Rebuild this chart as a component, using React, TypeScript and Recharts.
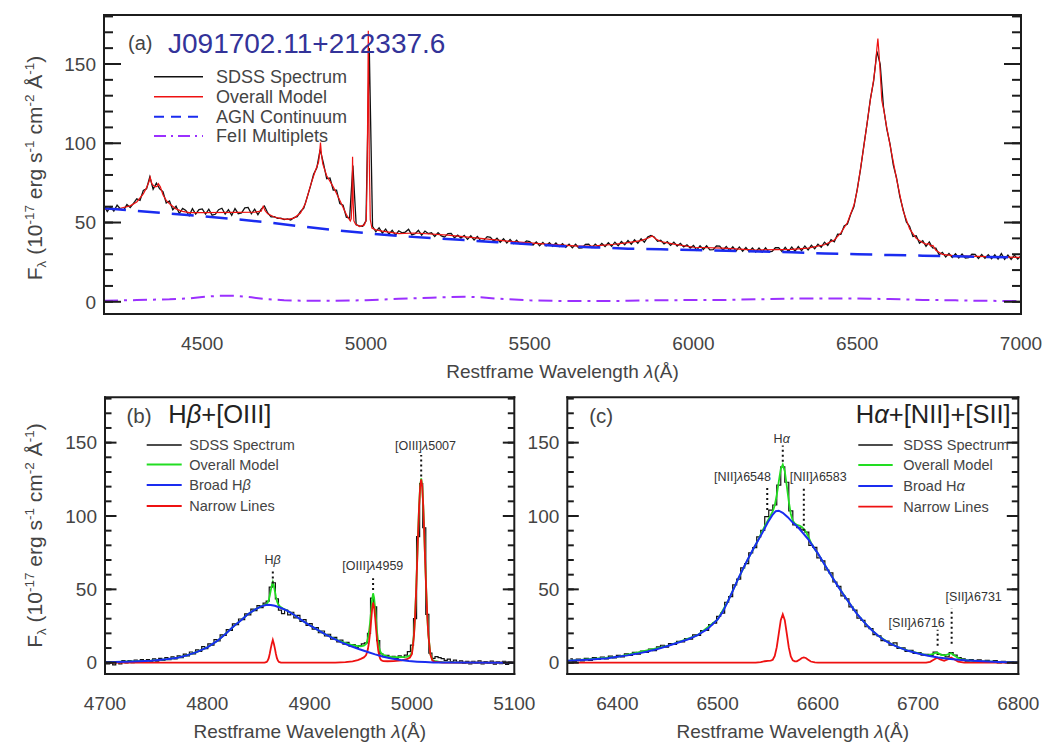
import React from "react";
import { LineChart, Line, XAxis, YAxis, ReferenceLine } from "recharts";

const FONT = "'Liberation Sans', Arial, Helvetica, sans-serif";
const INK = "#444";
const FRAME = "#1c1c1c";

// ---------- (a) full restframe spectrum, 4200-7000 Å ----------
// SDSS flux sampled every 10 Å from 4200 Å
const sdssAStart = 4200;
const sdssAStep = 10;
const sdssAFlux = [
  60.6, 56.9, 59.9, 57.2, 61.0, 58.6, 57.8, 61.3, 59.5, 62.1,
  64.9, 64.0, 70.2, 71.3, 78.8, 71.0, 74.8, 71.2, 69.5, 62.3,
  63.6, 58.1, 60.3, 55.7, 58.9, 57.6, 54.4, 58.8, 55.3, 58.2,
  58.6, 55.3, 58.4, 54.6, 55.2, 58.1, 59.0, 55.3, 58.1, 54.5,
  58.8, 55.6, 56.1, 59.2, 59.5, 55.5, 58.4, 54.9, 58.5, 60.4,
  56.0, 53.6, 53.7, 52.6, 52.7, 51.8, 52.3, 51.6, 53.1, 53.7,
  57.0, 59.1, 65.7, 72.6, 80.4, 84.6, 96.0, 87.5, 77.6, 78.1,
  70.5, 70.4, 62.0, 60.9, 53.4, 52.8, 86.0, 48.6, 47.9, 47.6,
  51.0, 160.0, 47.6, 44.2, 46.6, 43.3, 45.9, 42.6, 45.1, 42.0,
  44.8, 43.5, 44.0, 45.7, 42.2, 42.9, 45.1, 42.1, 44.6, 43.0,
  43.5, 41.2, 43.6, 41.6, 40.8, 43.0, 43.1, 40.4, 42.0, 40.2,
  41.9, 39.4, 41.6, 39.0, 41.2, 38.6, 38.9, 41.1, 40.6, 38.2,
  40.1, 37.6, 39.8, 37.1, 39.3, 36.8, 38.8, 36.5, 36.6, 38.4,
  37.9, 35.8, 37.8, 35.4, 37.5, 35.3, 37.3, 35.0, 37.1, 34.8,
  36.6, 34.4, 36.4, 34.1, 36.3, 33.9, 34.0, 36.2, 36.4, 34.2,
  36.4, 34.6, 36.8, 34.9, 37.2, 35.0, 37.6, 35.4, 38.0, 36.0,
  38.6, 36.3, 39.1, 37.0, 39.8, 37.6, 40.8, 41.9, 40.9, 38.2,
  38.8, 36.5, 37.9, 35.6, 37.6, 35.2, 36.8, 34.6, 35.9, 33.9,
  35.5, 32.6, 35.4, 33.0, 35.3, 32.8, 32.9, 35.2, 35.1, 32.5,
  34.9, 32.3, 34.7, 32.1, 34.6, 31.9, 34.2, 31.7, 33.9, 31.4,
  33.9, 31.4, 34.0, 31.5, 31.8, 34.1, 34.2, 31.7, 34.4, 31.8,
  34.5, 31.9, 34.8, 32.3, 35.2, 32.7, 35.6, 33.5, 36.3, 34.4,
  37.6, 35.6, 39.2, 37.9, 42.6, 42.5, 47.8, 49.0, 55.2, 60.0,
  71.0, 83.5, 98.3, 112.4, 127.8, 139.2, 158.0, 150.0, 123.0, 109.3,
  99.6, 86.4, 78.1, 66.4, 58.2, 50.4, 47.5, 41.2, 41.6, 37.0,
  38.6, 35.0, 37.7, 34.0, 33.8, 29.6, 31.2, 28.3, 30.5, 28.0,
  30.3, 27.7, 30.1, 27.6, 27.8, 30.0, 29.9, 27.3, 29.8, 27.4,
  29.7, 27.2, 29.6, 26.9, 30.4, 26.8, 29.5, 26.7, 29.4, 26.9,
  29.0,
];

// overall model [Å, flux]
const modelA = [
  [4200, 58.5], [4250, 59.0], [4280, 60.5], [4300, 63.0], [4320, 68.0], [4330, 72.0],
  [4337, 75.5], [4341, 78.5], [4346, 74.5], [4355, 72.5], [4362, 72.8], [4366, 74.5],
  [4372, 72.5], [4380, 67.5], [4390, 64.0], [4400, 61.8], [4420, 58.5], [4440, 57.0],
  [4460, 56.3], [4500, 56.3], [4600, 56.4], [4660, 56.6], [4680, 57.2], [4686, 60.3],
  [4692, 57.5], [4700, 55.5], [4720, 53.5], [4740, 52.5], [4760, 52.0], [4780, 52.8],
  [4800, 56.0], [4815, 62.0], [4830, 73.0], [4845, 82.5], [4855, 88.0], [4858, 93.0],
  [4861, 100.5], [4864, 93.0], [4868, 87.0], [4880, 79.5], [4900, 72.5], [4920, 64.0],
  [4940, 55.0], [4952, 51.0], [4955, 52.5], [4957, 62.0], [4959, 91.5], [4961, 62.0],
  [4963, 51.0], [4968, 49.0], [4980, 47.5], [4995, 48.5], [5001, 52.0], [5004, 90.0],
  [5007, 171.0], [5010, 90.0], [5013, 52.0], [5018, 46.5], [5030, 45.4], [5050, 44.6],
  [5100, 43.0], [5150, 43.4], [5250, 42.1], [5350, 40.0], [5450, 37.9], [5550, 36.4],
  [5650, 35.1], [5700, 35.3], [5760, 36.3], [5800, 37.3], [5840, 38.6], [5862, 40.2],
  [5874, 41.5], [5885, 39.6], [5900, 38.0], [5940, 36.4], [6000, 34.4], [6090, 33.8],
  [6190, 32.6], [6300, 33.1], [6350, 33.9], [6400, 36.0], [6430, 39.0], [6450, 43.5],
  [6470, 50.0], [6490, 61.0], [6500, 70.5], [6520, 97.8], [6540, 127.3], [6550, 140.0],
  [6556, 150.0], [6560, 160.0], [6563, 166.0], [6566, 158.0], [6570, 145.0], [6575, 127.0],
  [6581, 121.0], [6590, 110.0], [6600, 99.0], [6620, 77.5], [6640, 57.5], [6660, 46.0],
  [6680, 40.0], [6700, 37.2], [6712, 36.3], [6718, 36.8], [6724, 35.2], [6731, 35.6],
  [6740, 32.5], [6760, 29.9], [6800, 29.0], [6900, 28.5], [7000, 28.0],
];

// power-law AGN continuum
const agnContinuum = [
  [4200, 59.0], [4300, 57.3], [4400, 55.6], [4500, 54.0], [4600, 52.2], [4700, 50.1],
  [4800, 47.6], [4900, 45.3], [5000, 43.3], [5100, 41.5], [5200, 40.2], [5300, 38.9],
  [5400, 37.6], [5500, 36.3], [5600, 35.1], [5700, 34.3], [5800, 33.5], [5900, 33.1],
  [6000, 32.7], [6100, 32.2], [6200, 31.7], [6300, 31.2], [6400, 30.5], [6500, 30.0],
  [6600, 29.5], [6700, 29.1], [6800, 28.7], [6900, 28.3], [7000, 27.9],
];

// FeII template
const feIIMultiplets = [
  [4200, 0.6], [4300, 1.1], [4400, 1.6], [4460, 2.2], [4500, 3.0], [4550, 3.8],
  [4600, 3.8], [4650, 2.8], [4700, 1.6], [4750, 1.0], [4800, 0.7], [4900, 0.6],
  [5000, 1.0], [5100, 1.9], [5200, 2.6], [5300, 3.2], [5350, 2.8], [5400, 2.0],
  [5500, 0.9], [5600, 0.5], [5700, 0.5], [5800, 0.6], [5900, 1.0], [6000, 1.1],
  [6100, 1.2], [6200, 1.6], [6300, 2.0], [6400, 2.1], [6500, 2.1], [6600, 1.7],
  [6700, 1.2], [6800, 0.9], [6900, 0.6], [7000, 0.5],
];

// ---------- (b) Hβ + [OIII], continuum subtracted ----------
const sdssBStart = 4700;
const sdssBStep = 3;
const sdssBFlux = [
  0.8, -0.9, 0.6, -1.5, 0.3, -0.8, 1.4, -0.2, 1.5, 0.0,
  1.8, 0.3, 2.1, 0.6, 2.2, 0.9, 2.6, 1.1, 3.0, 1.6,
  3.4, 2.0, 4.0, 2.6, 4.7, 3.5, 5.9, 4.6, 7.3, 6.0,
  8.8, 7.7, 10.9, 9.6, 12.9, 12.0, 15.7, 14.8, 18.9, 18.6,
  22.6, 22.1, 26.4, 25.9, 29.8, 29.4, 33.3, 32.6, 36.5, 35.5,
  38.9, 37.6, 40.6, 42.0, 51.5, 54.5, 43.5, 35.8, 33.4, 35.9,
  32.6, 34.4, 30.6, 32.2, 28.1, 29.3, 25.4, 26.7, 22.8, 24.0,
  20.4, 21.6, 18.2, 19.4, 16.0, 17.3, 14.2, 15.4, 12.6, 13.8,
  11.2, 12.4, 10.4, 11.6, 12.8, 13.5, 20.0, 44.0, 38.0, 15.0,
  6.0, 4.2, 5.0, 3.2, 4.4, 3.0, 4.6, 3.6, 5.2, 7.6,
  12.0, 30.0, 86.0, 122.0, 92.0, 33.0, 6.5, 3.0, 4.2, 3.4,
  2.8, 1.6, 2.4, 0.8, 1.7, 0.2, 1.3, -0.5, 0.9, -0.8,
  1.0, -0.3, 1.2, -0.9, 0.7, -0.4, 1.1, -1.0, 0.5, -0.6,
  0.9, -1.1, 0.4, -0.5,
];

const modelB = [
  [4700, 0.3], [4720, 0.7], [4745, 1.4], [4760, 2.3], [4771, 3.4], [4780, 5.0],
  [4790, 7.4], [4800, 10.5], [4810, 15.0], [4818, 19.8], [4826, 25.0], [4833, 29.0],
  [4839, 32.7], [4846, 36.0], [4852, 38.2], [4857, 39.6], [4859, 41.0], [4860, 42.6],
  [4861, 45.6], [4862, 49.3], [4863, 52.5], [4864, 54.9], [4865, 52.4], [4866, 48.9],
  [4867, 45.1], [4868, 42.0], [4869, 40.2], [4871, 38.3], [4874, 37.0], [4878, 35.5],
  [4884, 33.0], [4891, 29.5], [4899, 26.0], [4907, 22.7], [4915, 19.5], [4923, 16.8],
  [4931, 14.3], [4940, 12.3], [4947, 11.3], [4950, 11.2], [4953, 11.6], [4955, 12.6],
  [4956, 14.2], [4957, 16.8], [4958, 21.1], [4959, 27.0], [4960, 34.8], [4961, 42.6],
  [4962, 47.3], [4963, 44.2], [4964, 36.9], [4965, 28.2], [4966, 20.0], [4967, 13.8],
  [4968, 10.0], [4969, 7.7], [4970, 6.5], [4972, 5.4], [4976, 4.3], [4980, 3.9],
  [4985, 3.8], [4990, 3.8], [4995, 4.0], [4998, 4.8], [5000, 7.0], [5002, 19.8],
  [5003, 31.8], [5004, 48.2], [5005, 68.0], [5006, 89.0], [5007, 107.6], [5008, 120.6],
  [5009, 125.6], [5010, 120.5], [5011, 107.4], [5012, 88.4], [5013, 67.4], [5014, 48.3],
  [5015, 31.2], [5016, 19.2], [5018, 5.9], [5020, 1.8], [5022, 1.2], [5026, 0.7],
  [5030, 0.4], [5050, 0.1], [5100, 0.0],
];

const broadHb = [
  [4700, 0.3], [4720, 0.7], [4745, 1.4], [4760, 2.3], [4771, 3.4], [4780, 5.0],
  [4790, 7.4], [4800, 10.5], [4810, 15.0], [4818, 19.8], [4826, 25.0], [4833, 29.0],
  [4839, 32.7], [4846, 36.0], [4852, 38.2], [4858, 39.5], [4862, 39.4], [4866, 38.8],
  [4872, 37.3], [4878, 35.5], [4884, 33.0], [4891, 29.5], [4899, 26.0], [4907, 22.7],
  [4915, 19.5], [4923, 16.6], [4931, 13.9], [4940, 11.4], [4948, 9.3], [4956, 7.5],
  [4964, 5.7], [4972, 4.1], [4980, 2.9], [4989, 1.8], [4997, 1.1], [5005, 0.7],
  [5013, 0.4], [5021, 0.2], [5040, 0.1], [5100, 0.0],
];

const narrowB = [
  [4700, 0], [4856, 0], [4858, 0.5], [4859, 1.4], [4860, 3.1], [4861, 6.1], [4862, 9.8],
  [4863, 13.0], [4864, 15.5], [4865, 13.0], [4866, 9.8], [4867, 6.1], [4868, 3.1],
  [4869, 1.4], [4870, 0.5], [4872, 0], [4925, 0], [4935, 0.4], [4942, 0.9], [4947, 1.8],
  [4950, 2.6], [4953, 3.6], [4955, 5.0], [4956, 6.8], [4957, 9.5], [4958, 14.0],
  [4959, 20.0], [4960, 28.0], [4961, 36.0], [4962, 41.0], [4963, 38.0], [4964, 31.0],
  [4965, 22.5], [4966, 14.5], [4967, 8.5], [4968, 4.8], [4969, 2.6], [4970, 1.6],
  [4972, 1.1], [4976, 1.0], [4982, 1.1], [4990, 1.6], [4995, 2.4], [4998, 3.5],
  [5000, 6.0], [5002, 18.9], [5003, 31.0], [5004, 47.6], [5005, 67.4], [5006, 88.4],
  [5007, 107.0], [5008, 120.0], [5009, 125.0], [5010, 120.0], [5011, 107.0], [5012, 88.0],
  [5013, 67.0], [5014, 48.0], [5015, 31.0], [5016, 19.0], [5018, 5.5], [5020, 1.5],
  [5022, 0.8], [5026, 0.4], [5030, 0], [5100, 0],
];

// ---------- (c) Hα + [NII] + [SII], continuum subtracted ----------
const sdssCStart = 6353;
const sdssCStep = 4;
const sdssCFlux = [
  2.6, 0.9, 2.4, 1.2, 2.9, 1.6, 3.4, 2.2, 3.9, 2.6,
  4.5, 3.2, 5.0, 4.0, 6.1, 4.9, 7.0, 5.9, 7.9, 7.1,
  9.3, 8.3, 10.8, 11.9, 10.6, 13.0, 12.5, 14.6, 14.2, 16.5,
  16.1, 18.9, 18.6, 21.9, 22.0, 26.0, 27.0, 31.6, 33.8, 41.2,
  45.0, 53.0, 57.0, 64.6, 67.5, 74.8, 78.4, 85.8, 90.2, 99.5,
  104.0, 107.5, 121.0, 133.5, 123.0, 103.5, 94.0, 92.0, 90.6, 89.0,
  80.0, 78.6, 71.5, 69.4, 63.2, 61.2, 55.0, 52.0, 45.6, 43.6,
  38.0, 35.9, 30.4, 28.9, 24.5, 23.2, 19.1, 18.3, 15.0, 14.7,
  12.0, 13.5, 9.8, 10.2, 7.7, 8.4, 6.3, 6.9, 5.1, 5.7,
  5.0, 7.2, 5.7, 5.3, 4.0, 6.9, 5.2, 3.4, 2.6, 1.1,
  2.2, 0.7, 1.9, 0.4, 1.6, 0.3, 1.4, -0.1, 1.0, -0.2,
  0.6, -0.3,
];

const modelC = [
  [6350, 1.3], [6400, 4.0], [6450, 11.4], [6480, 18.8], [6500, 29.5], [6510, 41.5],
  [6520, 56.5], [6530, 70.3], [6540, 83.0], [6543, 87.5], [6547, 93.0], [6550, 96.8],
  [6553, 100.5], [6555, 103.1], [6557, 107.3], [6559, 114.3], [6561, 123.4], [6563, 132.0],
  [6565, 135.0], [6567, 130.5], [6569, 120.5], [6571, 110.0], [6573, 101.4], [6575, 96.8],
  [6577, 94.8], [6579, 94.0], [6582, 93.3], [6584, 92.5], [6586, 91.1], [6588, 89.3],
  [6590, 86.7], [6593, 82.0], [6597, 77.4], [6600, 74.5], [6610, 63.2], [6620, 52.2],
  [6630, 42.1], [6640, 32.5], [6650, 24.8], [6660, 18.5], [6670, 13.9], [6680, 10.6],
  [6690, 8.2], [6700, 6.5], [6710, 5.0], [6714, 5.8], [6719, 7.0], [6723, 5.4],
  [6727, 5.0], [6733, 6.5], [6737, 4.5], [6742, 2.5], [6750, 1.5], [6760, 1.1],
  [6780, 0.5], [6800, 0.2],
];

const broadHa = [
  [6350, 1.3], [6360, 1.6], [6370, 2.0], [6380, 2.5], [6390, 3.1], [6400, 4.0],
  [6410, 5.0], [6420, 6.2], [6430, 7.7], [6440, 9.4], [6450, 11.4], [6460, 13.6],
  [6470, 15.8], [6480, 18.8], [6490, 23.0], [6500, 29.5], [6505, 34.5], [6510, 41.5],
  [6515, 48.8], [6520, 56.5], [6525, 63.6], [6530, 70.3], [6535, 76.8], [6540, 83.0],
  [6545, 89.0], [6550, 95.5], [6555, 101.0], [6558, 103.3], [6561, 103.6], [6565, 102.2],
  [6570, 99.2], [6575, 95.5], [6580, 92.5], [6585, 88.5], [6590, 84.5], [6595, 79.5],
  [6600, 74.5], [6605, 68.8], [6610, 63.2], [6615, 57.6], [6620, 52.2], [6625, 47.0],
  [6630, 42.1], [6635, 37.0], [6640, 32.5], [6645, 28.5], [6650, 24.8], [6655, 21.5],
  [6660, 18.5], [6665, 16.0], [6670, 13.9], [6675, 12.1], [6680, 10.6], [6690, 8.1],
  [6700, 6.3], [6710, 4.7], [6720, 3.6], [6730, 2.7], [6740, 2.0], [6750, 1.5],
  [6760, 1.1], [6770, 0.8], [6780, 0.5], [6790, 0.3], [6800, 0.2],
];

const narrowC = [
  [6350, 0], [6538, 0], [6543, 0.4], [6547, 1.0], [6550, 1.3], [6553, 1.4], [6555, 2.0],
  [6557, 4.6], [6559, 10.6], [6561, 19.8], [6563, 29.0], [6565, 33.0], [6567, 29.0],
  [6569, 19.8], [6571, 10.4], [6573, 4.2], [6575, 1.6], [6577, 0.9], [6579, 0.9],
  [6582, 2.2], [6584, 3.2], [6586, 3.6], [6588, 3.2], [6590, 2.2], [6593, 0.8],
  [6597, 0.2], [6600, 0], [6708, 0], [6712, 0.6], [6716, 2.2], [6719, 3.4], [6722, 2.2],
  [6726, 1.3], [6730, 2.4], [6733, 3.6], [6736, 2.4], [6740, 0.7], [6746, 0], [6800, 0],
];

// line identification markers: [wavelength, lower flux, upper flux]
const markersB = [
  [4864, 54, 62.5],
  [4962, 49.5, 57.5],
  [5009, 127, 141.5],
];
const markersC = [
  [6565, 137, 148],
  [6549.5, 104, 119.5],
  [6586, 90, 120],
  [6719.5, 11.5, 22.5],
  [6733.5, 13, 37],
];

// axis ticks
const xTicksA = [4500, 5000, 5500, 6000, 6500, 7000];
const xTicksB = [4700, 4800, 4900, 5000, 5100];
const xTicksC = [6400, 6500, 6600, 6700, 6800];
const yTicks = [0, 50, 100, 150];
const Y_DOMAIN: [number, number] = [-7.7, 180.9];

type Pt = { x: number; y: number };
const onGrid = (start: number, step: number, flux: number[]): Pt[] =>
  flux.map((y, i) => ({ x: start + i * step, y }));
const fromPairs = (pairs: number[][]): Pt[] => pairs.map(([x, y]) => ({ x, y }));
const steps = (from: number, to: number, by: number) => {
  const out: number[] = [];
  for (let v = from; v <= to; v += by) out.push(v);
  return out;
};

type Frame = {
  xDomain: [number, number];
  xTicks: number[];
  xMinor: number[];
  xLen: [number, number];
  yLen: [number, number];
  yAxisWidth: number;
};

// tick marks only, no text
const noLabel = () => <g />;

// IDL-style box: labels outside, inward ticks on all four sides
function frameAxes(f: Frame) {
  const tl = { stroke: FRAME, strokeWidth: 2 };
  const edge = { stroke: FRAME, strokeWidth: 2, strokeLinecap: "square" as const };
  const xc = { type: "number" as const, domain: f.xDomain, allowDataOverflow: true, interval: 0 as const };
  const yc = { type: "number" as const, domain: Y_DOMAIN, allowDataOverflow: true, interval: 0 as const };
  const yMinor = steps(0, 180, 10);
  const label = { fill: INK, fontSize: 19, fontFamily: FONT };
  return [
    <XAxis key="x" xAxisId="main" dataKey="x" {...xc} ticks={f.xTicks} height={60}
      axisLine={false} tickLine={false} tickSize={0} tickMargin={23} tick={label} />,
    <XAxis key="xb" xAxisId="bMaj" {...xc} ticks={f.xTicks} mirror height={0.01} tick={noLabel}
      tickSize={f.xLen[0]} tickLine={tl} axisLine={edge} />,
    <XAxis key="xbm" xAxisId="bMin" {...xc} ticks={f.xMinor} mirror height={0.01} tick={noLabel}
      tickSize={f.xLen[1]} tickLine={tl} axisLine={false} />,
    <XAxis key="xt" xAxisId="tMaj" orientation="top" {...xc} ticks={f.xTicks} mirror height={0.01}
      tick={noLabel} tickSize={f.xLen[0]} tickLine={tl} axisLine={edge} />,
    <XAxis key="xtm" xAxisId="tMin" orientation="top" {...xc} ticks={f.xMinor} mirror height={0.01}
      tick={noLabel} tickSize={f.xLen[1]} tickLine={tl} axisLine={false} />,
    <YAxis key="y" yAxisId="main" dataKey="y" {...yc} ticks={yTicks} width={f.yAxisWidth}
      axisLine={false} tickLine={false} tickSize={0} tickMargin={8} tick={label} />,
    <YAxis key="yl" yAxisId="lMaj" {...yc} ticks={yTicks} mirror width={0.01} tick={noLabel}
      tickSize={f.yLen[0]} tickLine={tl} axisLine={edge} />,
    <YAxis key="ylm" yAxisId="lMin" {...yc} ticks={yMinor} mirror width={0.01} tick={noLabel}
      tickSize={f.yLen[1]} tickLine={tl} axisLine={false} />,
    <YAxis key="yr" yAxisId="rMaj" orientation="right" {...yc} ticks={yTicks} mirror width={0.01}
      tick={noLabel} tickSize={f.yLen[0]} tickLine={tl} axisLine={edge} />,
    <YAxis key="yrm" yAxisId="rMin" orientation="right" {...yc} ticks={yMinor} mirror width={0.01}
      tick={noLabel} tickSize={f.yLen[1]} tickLine={tl} axisLine={false} />,
  ];
}

const series = (key: string, data: Pt[], stroke: string, width: number, extra: any = {}) => (
  <Line key={key} xAxisId="main" yAxisId="main" data={data} dataKey="y" stroke={stroke}
    strokeWidth={width} dot={false} isAnimationActive={false} {...extra} />
);

const markerLines = (marks: number[][]) =>
  marks.map(([x, y0, y1]) => (
    <ReferenceLine key={`m${x}`} xAxisId="main" yAxisId="main"
      segment={[{ x, y: y0 }, { x, y: y1 }]} stroke="#111" strokeWidth={2} strokeDasharray="2 3" />
  ));

const RED = "#ee1111";
const BLUE = "#1a2cf0";
const GREEN = "#22dd22";
const VIOLET = "#9b30ff";
const BLACK = "#111";

function YTitle({ x, y }: { x: number; y: number }) {
  return (
    <text transform={`translate(${x},${y}) rotate(-90)`} textAnchor="middle" fontSize={21} fill={INK}>
      F<tspan fontSize={13.5} dy={4}>λ</tspan>
      <tspan dy={-4}>{" (10"}</tspan>
      <tspan fontSize={13.5} dy={-8}>-17</tspan>
      <tspan dy={8}>{" erg s"}</tspan>
      <tspan fontSize={13.5} dy={-8}>-1</tspan>
      <tspan dy={8}>{" cm"}</tspan>
      <tspan fontSize={13.5} dy={-8}>-2</tspan>
      <tspan dy={8}>{" Å"}</tspan>
      <tspan fontSize={13.5} dy={-8}>-1</tspan>
      <tspan dy={8}>)</tspan>
    </text>
  );
}

function XTitle({ x, y }: { x: number; y: number }) {
  return (
    <text x={x} y={y} textAnchor="middle" fontSize={19} fill={INK}>
      {"Restframe Wavelength "}<tspan fontStyle="italic">λ</tspan>(Å)
    </text>
  );
}

type LegendRow = { label: React.ReactNode; color: string; dash?: string; width: number };
function LegendBlock(p: { x1: number; x2: number; tx: number; ys: number[]; size: number; rows: LegendRow[] }) {
  return (
    <g>
      {p.rows.map((r, i) => (
        <g key={i}>
          <line x1={p.x1} x2={p.x2} y1={p.ys[i]} y2={p.ys[i]} stroke={r.color}
            strokeWidth={r.width} strokeDasharray={r.dash} />
          <text x={p.tx} y={p.ys[i] + p.size * 0.36} fontSize={p.size} fill={INK}>{r.label}</text>
        </g>
      ))}
    </g>
  );
}

const Note = ({ x, y, name, wave }: { x: number; y: number; name: string; wave: string }) => (
  <text x={x} y={y} textAnchor="middle" fontSize={12.5} fill="#333">
    {name}<tspan fontStyle="italic">λ</tspan>{wave}
  </text>
);

export default function App() {
  const frameA: Frame = {
    xDomain: [4200, 7000], xTicks: xTicksA, xMinor: steps(4300, 6900, 100),
    xLen: [8.5, 4.5], yLen: [17, 9], yAxisWidth: 60,
  };
  const frameB: Frame = {
    xDomain: [4700, 5100], xTicks: xTicksB, xMinor: steps(4710, 5090, 10),
    xLen: [7.5, 4], yLen: [11.5, 6.5], yAxisWidth: 60,
  };
  const frameC: Frame = {
    xDomain: [6350, 6800], xTicks: xTicksC, xMinor: steps(6360, 6790, 10),
    xLen: [7.5, 4], yLen: [11.5, 6.5], yAxisWidth: 40,
  };

  return (
    <div style={{ position: "absolute", left: 0, top: 0, width: 1050, height: 750, background: "#fff", fontFamily: FONT }}>
      <div style={{ position: "absolute", left: 0, top: 0 }}>
        <LineChart width={1050} height={395} margin={{ top: 15, right: 29, bottom: 21, left: 44 }}>
          {frameAxes(frameA)}
          {series("sdss", onGrid(sdssAStart, sdssAStep, sdssAFlux), BLACK, 1.3)}
          {series("model", fromPairs(modelA), RED, 1.2)}
          {series("agn", fromPairs(agnContinuum), BLUE, 2.5, { strokeDasharray: "22 12" })}
          {series("fe", fromPairs(feIIMultiplets), VIOLET, 2, { strokeDasharray: "14 6 3 6" })}
        </LineChart>
      </div>

      <div style={{ position: "absolute", left: 0, top: 380 }}>
        <LineChart width={540} height={370} margin={{ top: 17.3, right: 25.7, bottom: 16, left: 45 }}>
          {frameAxes(frameB)}
          {series("sdss", onGrid(sdssBStart, sdssBStep, sdssBFlux), BLACK, 1.2, { type: "step" })}
          {series("model", fromPairs(modelB), GREEN, 1.8)}
          {series("narrow", fromPairs(narrowB), RED, 1.8)}
          {series("broad", fromPairs(broadHb), BLUE, 2)}
          {markerLines(markersB)}
        </LineChart>
      </div>

      <div style={{ position: "absolute", left: 520, top: 380 }}>
        <LineChart width={530} height={370} margin={{ top: 17.3, right: 31.7, bottom: 16, left: 7.3 }}>
          {frameAxes(frameC)}
          {series("sdss", onGrid(sdssCStart, sdssCStep, sdssCFlux), BLACK, 1.2, { type: "step" })}
          {series("model", fromPairs(modelC), GREEN, 1.8)}
          {series("narrow", fromPairs(narrowC), RED, 1.8)}
          {series("broad", fromPairs(broadHa), BLUE, 2)}
          {markerLines(markersC)}
        </LineChart>
      </div>

      <svg width={1050} height={750} style={{ position: "absolute", left: 0, top: 0, pointerEvents: "none" }}
        fontFamily={FONT}>
        {/* panel (a) */}
        <text x={128} y={49.5} fontSize={20} fill={INK}>(a)</text>
        <text x={168} y={52.5} fontSize={28} fill="#333399">J091702.11+212337.6</text>
        <LegendBlock x1={154} x2={203} tx={216} ys={[76.7, 96.7, 116.7, 136]} size={18} rows={[
          { label: "SDSS Spectrum", color: BLACK, width: 1.5 },
          { label: "Overall Model", color: RED, width: 1.5 },
          { label: "AGN Continuum", color: BLUE, width: 2, dash: "10 7" },
          { label: "FeII Multiplets", color: VIOLET, width: 2, dash: "12 5 2 5" },
        ]} />
        <XTitle x={562.5} y={378.3} />
        <YTitle x={42} y={168} />

        {/* panel (b) */}
        <text x={126.5} y={422.5} fontSize={20.5} fill={INK}>(b)</text>
        <text x={168.3} y={423.3} fontSize={25.5} fill="#222">
          H<tspan fontStyle="italic">β</tspan>+[OIII]
        </text>
        <LegendBlock x1={146.7} x2={181.7} tx={189.3} ys={[445, 464.5, 485, 506]} size={14.5} rows={[
          { label: "SDSS Spectrum", color: BLACK, width: 1.5 },
          { label: "Overall Model", color: GREEN, width: 1.8 },
          { label: <>Broad H<tspan fontStyle="italic">β</tspan></>, color: BLUE, width: 1.8 },
          { label: "Narrow Lines", color: RED, width: 1.8 },
        ]} />
        <text x={272.5} y={563.5} textAnchor="middle" fontSize={12.5} fill="#333">
          H<tspan fontStyle="italic">β</tspan>
        </text>
        <Note x={372.8} y={569.5} name="[OIII]" wave="4959" />
        <Note x={425.5} y={449.5} name="[OIII]" wave="5007" />
        <XTitle x={309.7} y={738.3} />
        <YTitle x={42} y={535.6} />

        {/* panel (c) */}
        <text x={589.3} y={422.5} fontSize={20.5} fill={INK}>(c)</text>
        <text x={1010.7} y={423.3} textAnchor="end" fontSize={25.5} fill="#222">
          H<tspan fontStyle="italic">α</tspan>+[NII]+[SII]
        </text>
        <LegendBlock x1={858.3} x2={892.7} tx={903.3} ys={[445, 465, 486, 506.7]} size={14.5} rows={[
          { label: "SDSS Spectrum", color: BLACK, width: 1.5 },
          { label: "Overall Model", color: GREEN, width: 1.8 },
          { label: <>Broad H<tspan fontStyle="italic">α</tspan></>, color: BLUE, width: 1.8 },
          { label: "Narrow Lines", color: RED, width: 1.8 },
        ]} />
        <text x={781.7} y={443} textAnchor="middle" fontSize={12.5} fill="#333">
          H<tspan fontStyle="italic">α</tspan>
        </text>
        <Note x={742.5} y={481} name="[NII]" wave="6548" />
        <Note x={818.3} y={481} name="[NII]" wave="6583" />
        <Note x={916.7} y={627} name="[SII]" wave="6716" />
        <Note x={973.7} y={600.7} name="[SII]" wave="6731" />
        <XTitle x={792.8} y={738.3} />
      </svg>
    </div>
  );
}
